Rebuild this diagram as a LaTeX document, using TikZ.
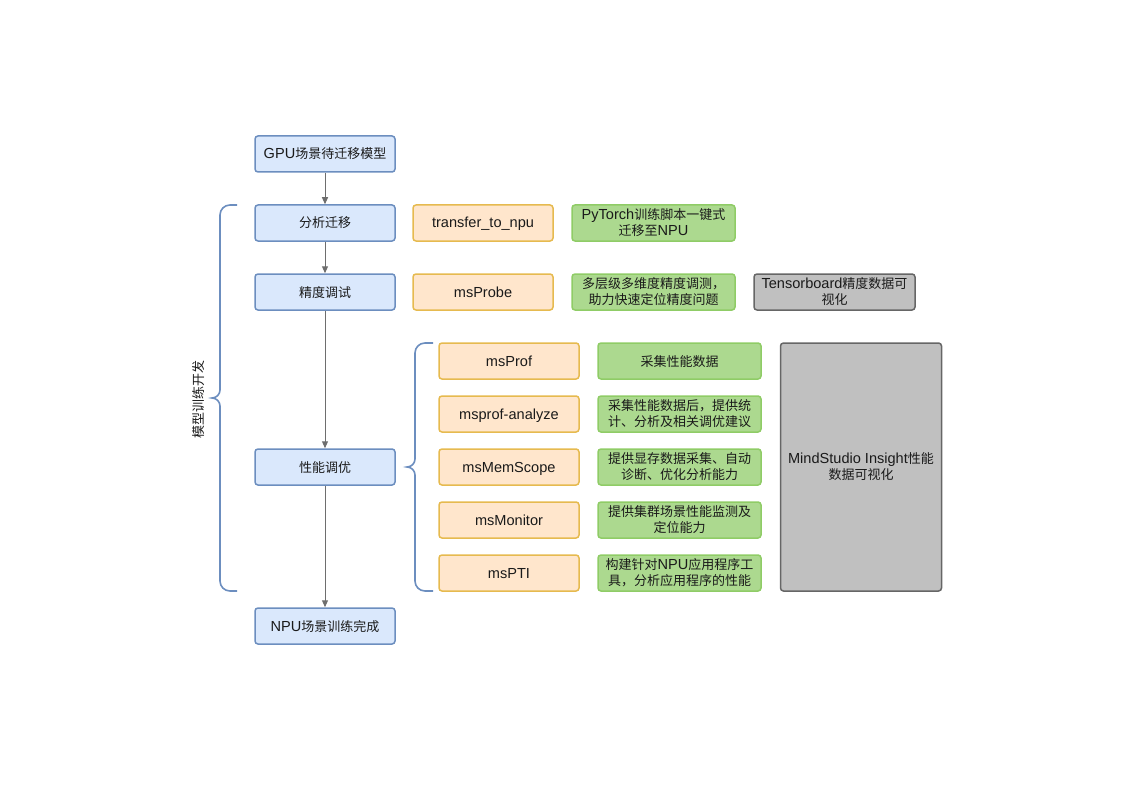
\documentclass[tikz,border=0pt]{standalone}
\usepackage{fontspec}
\setmainfont{Noto Sans CJK SC}
\newfontfamily\latfont[Scale=1.12]{Liberation Sans}
\newcommand{\latn}[1]{{\latfont #1}}
\usetikzlibrary{arrows.meta}
\definecolor{fblue}{HTML}{DAE8FC}
\definecolor{sblue}{HTML}{6C8EBF}
\definecolor{forange}{HTML}{FFE6CC}
\definecolor{sorange}{HTML}{E6BA4F}
\definecolor{fgreen}{HTML}{ACD98F}
\definecolor{sgreen}{HTML}{8FCC66}
\definecolor{fgray}{HTML}{C0C0C0}
\definecolor{sgray}{HTML}{666666}
\definecolor{arrowgray}{HTML}{6E6E6E}
\definecolor{txt}{HTML}{1A1A1A}
\tikzset{
  box/.style={rounded corners=3pt, line width=1.5pt, minimum height=36pt, inner sep=0pt,
    align=center, font=\fontsize{13}{16}\selectfont, text=txt},
  oneline/.style={text height=10pt, text depth=0pt},
  bluebox/.style={box, draw=sblue, fill=fblue, minimum width=140pt},
  orangebox/.style={box, oneline, draw=sorange, fill=forange, minimum width=140pt},
  greenbox/.style={box, draw=sgreen, fill=fgreen, minimum width=163pt},
  graybox/.style={box, draw=sgray, fill=fgray, minimum width=161pt},
  flow/.style={draw=arrowgray, line width=1pt, -{Triangle[width=6pt,length=7pt]}},
  bracestyle/.style={draw=sblue, line width=1.6pt},
}
\begin{document}
\begin{tikzpicture}[x=1pt,y=-1pt]
\useasboundingbox (0,0) rectangle (1123,794);
% main flow
\node[bluebox, oneline] (gpu) at (325,154) {\latn{GPU}场景待迁移模型};
\node[bluebox, oneline] (fx) at (325,223) {分析迁移};
\node[bluebox, oneline] (jd) at (325,292) {精度调试};
\node[bluebox, oneline] (xn) at (325,467) {性能调优};
\node[bluebox, oneline] (npu) at (325,626) {\latn{NPU}场景训练完成};
\draw[flow] (gpu) -- (fx);
\draw[flow] (fx) -- (jd);
\draw[flow] (jd) -- (xn);
\draw[flow] (xn) -- (npu);
% row 1 and 2 tools
\node[orangebox] (t2n) at (483,223) {\latn{transfer\_to\_npu}};
\node[greenbox] (t2nd) at (653.5,223) {\latn{PyTorch}训练脚本一键式\\迁移至\latn{NPU}};
\node[orangebox] (probe) at (483,292) {\latn{msProbe}};
\node[greenbox] (probed) at (653.5,292) {多层级多维度精度调测，\\助力快速定位精度问题};
\node[graybox] (tb) at (834.5,292) {\latn{Tensorboard}精度数据可\\视化};
% performance tools
\node[orangebox] (prof) at (509,361) {\latn{msProf}};
\node[orangebox] (ana) at (509,414) {\latn{msprof-analyze}};
\node[orangebox] (mem) at (509,467) {\latn{msMemScope}};
\node[orangebox] (mon) at (509,520) {\latn{msMonitor}};
\node[orangebox] (pti) at (509,573) {\latn{msPTI}};
\node[greenbox, oneline] (profd) at (679.5,361) {采集性能数据};
\node[greenbox] (anad) at (679.5,414) {采集性能数据后，提供统\\计、分析及相关调优建议};
\node[greenbox] (memd) at (679.5,467) {提供显存数据采集、自动\\诊断、优化分析能力};
\node[greenbox] (mond) at (679.5,520) {提供集群场景性能监测及\\定位能力};
\node[greenbox] (ptid) at (679.5,573) {构建针对\latn{NPU}应用程序工\\具，分析应用程序的性能};
\node[graybox, minimum height=248pt] (insight) at (861,467) {\latn{MindStudio Insight}性能\\数据可视化};
% left brace
\draw[bracestyle] (237,205) -- (230,205) to[out=180,in=90] (220,215) -- (220,390)
  to[out=-90,in=0] (212,398) to[out=0,in=90] (220,406) -- (220,581)
  to[out=-90,in=180] (230,591) -- (237,591);
\node[rotate=90, font=\fontsize{13}{15}\selectfont, text=txt] (lbl) at (199,399) {模型训练开发};
% right brace
\draw[bracestyle] (433,343) -- (425,343) to[out=180,in=90] (415,353) -- (415,459)
  to[out=-90,in=0] (407,467) to[out=0,in=90] (415,475) -- (415,581)
  to[out=-90,in=180] (425,591) -- (433,591);
\end{tikzpicture}
\end{document}
